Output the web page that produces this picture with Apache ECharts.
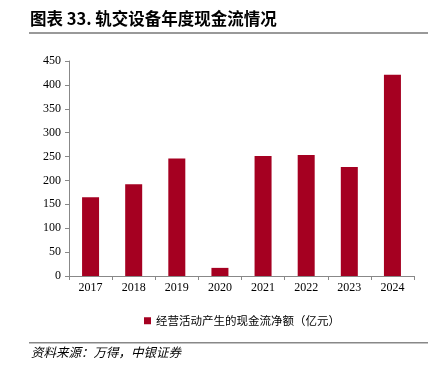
<!DOCTYPE html>
<html>
<head>
<meta charset="utf-8">
<style>
  html, body { margin: 0; padding: 0; background: #fff; }
  #main { width: 438px; height: 368px; }
</style>
<script src="https://cdn.jsdelivr.net/npm/echarts@6/dist/echarts.min.js"></script>
</head>
<body>
<div id="main"></div>
<script>
var years = ['2017', '2018', '2019', '2020', '2021', '2022', '2023', '2024'];
var cashFlow = [165, 192, 246, 17, 251, 253, 228, 421];
var seriesName = '经营活动产生的现金流净额（亿元）';
var titleText = '图表 33. 轨交设备年度现金流情况';
var sourceText = '资料来源：万得，中银证券';

var myChart = echarts.init(document.getElementById('main'));
var serif = '"Liberation Serif", "Noto Sans CJK SC", serif';
var option = {
  animation: false,
  textStyle: { fontFamily: serif },
  grid: { left: 69, right: 24, top: 61, bottom: 92 },
  legend: {
    top: 310,
    left: 139,
    icon: 'rect',
    itemWidth: 7,
    itemHeight: 7,
    itemGap: 4,
    data: [seriesName],
    textStyle: { fontSize: 11.5, color: '#000', fontFamily: '"Noto Sans CJK SC", serif' }
  },
  xAxis: {
    type: 'category',
    data: years,
    axisLine: { lineStyle: { color: '#888', width: 1 } },
    axisTick: { show: true, length: 4, lineStyle: { color: '#888' } },
    axisLabel: { color: '#000', fontSize: 12, fontFamily: serif, margin: 6 }
  },
  yAxis: {
    type: 'value',
    min: 0,
    max: 450,
    interval: 50,
    splitLine: { show: false },
    axisLine: { show: true, lineStyle: { color: '#888', width: 1 } },
    axisTick: { show: true, length: 4, lineStyle: { color: '#888' } },
    axisLabel: { color: '#000', fontSize: 12, fontFamily: serif, margin: 8 }
  },
  series: [{
    name: seriesName,
    type: 'bar',
    data: cashFlow,
    barWidth: 17,
    itemStyle: { color: '#A50021' }
  }],
  graphic: [
    {
      type: 'text', left: 30, top: 10,
      style: { text: titleText, fontSize: 16.5, fontWeight: 'bold', fill: '#000', fontFamily: '"Noto Sans CJK SC", serif' }
    },
    {
      type: 'rect', shape: { x: 29, y: 32, width: 399, height: 2 },
      style: { fill: '#999' }
    },
    {
      type: 'rect', shape: { x: 29, y: 342, width: 399, height: 1.5 },
      style: { fill: '#888' }
    },
    {
      type: 'text', left: 31, top: 346,
      style: { text: sourceText, fontSize: 12.5, fontStyle: 'italic', fill: '#000', fontFamily: '"Noto Sans CJK SC", serif' }
    }
  ]
};
myChart.setOption(option);
</script>
</body>
</html>
